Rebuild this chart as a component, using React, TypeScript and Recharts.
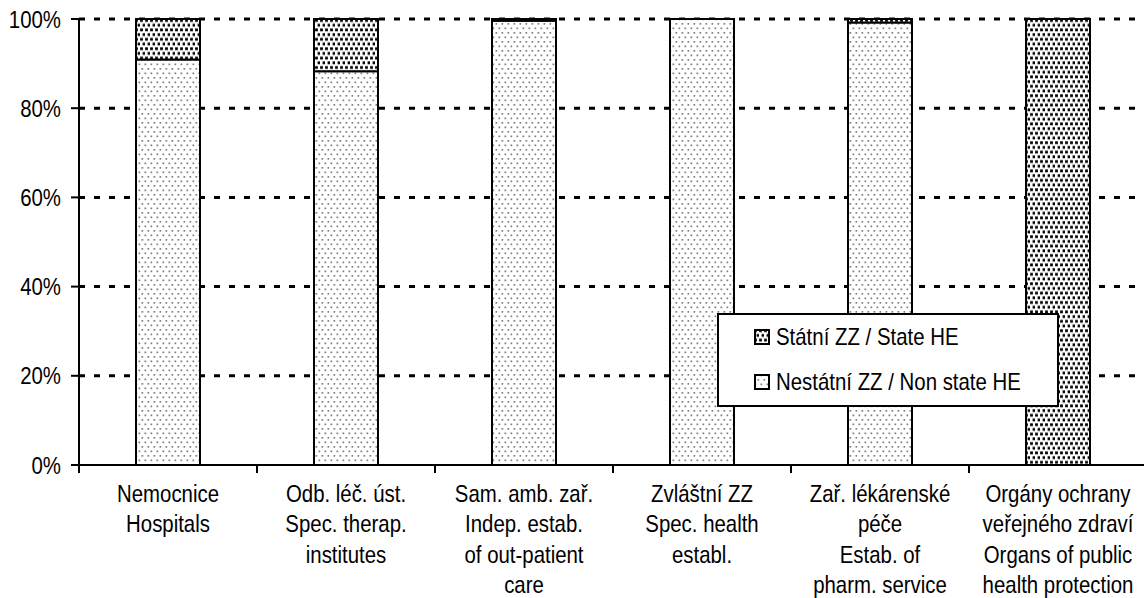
import React from 'react';
import { BarChart, Bar, XAxis, YAxis, CartesianGrid, Legend } from 'recharts';

const categories: string[][] = [
  ['Nemocnice', 'Hospitals'],
  ['Odb. léč. úst.', 'Spec. therap.', 'institutes'],
  ['Sam. amb. zař.', 'Indep. estab.', 'of out-patient', 'care'],
  ['Zvláštní ZZ', 'Spec. health', 'establ.'],
  ['Zař. lékárenské', 'péče', 'Estab. of', 'pharm. service'],
  ['Orgány ochrany', 'veřejného zdraví', 'Organs of public', 'health protection'],
];
const nonStateValues = [90.9, 88.3, 99.6, 100, 99.2, 0];
const stateValues = [9.1, 11.7, 0.4, 0, 0.8, 100];
const yTicks = [0, 20, 40, 60, 80, 100];
const gridValues = [20, 40, 60, 80, 100];
const stateName = 'Státní ZZ / State HE';
const nonStateName = 'Nestátní ZZ / Non state HE';

const data = categories.map((lines, i) => ({
  key: String(i),
  nonState: nonStateValues[i],
  state: stateValues[i],
}));

const FONT = '"Liberation Sans", Arial, sans-serif';
const SX = 0.85;

const CategoryTick = (props: any) => {
  const { x, y, payload, index, visibleTicksCount } = props;
  const idx = Number(payload?.value ?? index);
  const lines = categories[idx] || [];
  const half = payload?.offset ?? 0;
  return (
    <g>
      <line x1={x - half} x2={x - half} y1={y - 8} y2={y} stroke="#000" strokeWidth={2} />
      {index === visibleTicksCount - 1 && (
        <line x1={x + half} x2={x + half} y1={y - 8} y2={y} stroke="#000" strokeWidth={2} />
      )}
      <text
        transform={`translate(${x},${y + 29}) scale(${SX},1)`}
        x={0}
        y={0}
        textAnchor="middle"
        fontSize={24}
        fill="#000"
        fontFamily={FONT}
      >
        {lines.map((l, i) => (
          <tspan key={i} x={0} dy={i === 0 ? 0 : 30.5}>
            {l}
          </tspan>
        ))}
      </text>
    </g>
  );
};

const ValueTick = (props: any) => {
  const { x, y, payload } = props;
  return (
    <text
      transform={`translate(${x},${y}) scale(${SX},1)`}
      x={0}
      y={0}
      dy="0.355em"
      textAnchor="end"
      fontSize={24}
      fill="#000"
      fontFamily={FONT}
    >
      {`${payload.value}%`}
    </text>
  );
};

const LegendBox = (props: any) => {
  const items = [...(props.payload || [])].reverse();
  return (
    <div
      style={{
        width: 342,
        height: 94,
        boxSizing: 'border-box',
        border: '2px solid #000',
        background: '#fff',
        fontFamily: FONT,
        fontSize: 24,
        color: '#000',
        position: 'relative',
      }}
    >
      {items.map((it: any, i: number) => (
        <div
          key={i}
          style={{
            position: 'absolute',
            left: 35,
            top: 7 + i * 45,
            height: 30,
            display: 'flex',
            alignItems: 'center',
            whiteSpace: 'nowrap',
          }}
        >
          <svg width={16} height={16} style={{ marginRight: 6 }}>
            <rect x={1} y={1} width={14} height={14} fill={it.color} stroke="#000" strokeWidth={2} />
          </svg>
          <span style={{ display: 'inline-block', transform: `scaleX(${SX})`, transformOrigin: 'left center' }}>
            {it.value}
          </span>
        </div>
      ))}
    </div>
  );
};

export default function App() {
  return (
    <div style={{ width: 1144, height: 598, overflow: 'hidden' }}>
      <style>{'html,body{margin:0;overflow:hidden;background:#fff}'}</style>
      <BarChart
        width={1150}
        height={598}
        data={data}
        margin={{ top: 19, right: 3, bottom: 0, left: 0 }}
        barCategoryGap={0}
      >
        <defs>
          <pattern id="pNon" width={6} height={9} patternUnits="userSpaceOnUse">
            <rect width={6} height={9} fill="#fff" />
            <rect x={0.5} y={0.5} width={1.7} height={1.7} fill="#808080" />
            <rect x={3.5} y={5} width={1.7} height={1.7} fill="#808080" />
          </pattern>
          <pattern id="pState" width={5} height={9.4} patternUnits="userSpaceOnUse">
            <rect width={5} height={9.4} fill="#fff" />
            <rect x={0.1} y={0.3} width={2.8} height={2.8} fill="#000" />
            <rect x={2.6} y={5} width={2.8} height={2.8} fill="#000" />
          </pattern>
        </defs>
        <CartesianGrid
          vertical={false}
          horizontalValues={gridValues}
          stroke="#000"
          strokeWidth={3}
          strokeDasharray="6 9"
        />
        <XAxis
          dataKey="key"
          axisLine={{ stroke: '#000', strokeWidth: 2 }}
          tickLine={false}
          tickSize={8}
          tickMargin={0}
          interval={0}
          height={133}
          tick={<CategoryTick />}
        />
        <YAxis
          domain={[0, 100]}
          ticks={yTicks}
          axisLine={{ stroke: '#000', strokeWidth: 2 }}
          tickLine={{ stroke: '#000', strokeWidth: 2 }}
          tickSize={8}
          tickMargin={10}
          width={79}
          tick={<ValueTick />}
        />
        <Legend
          layout="horizontal"
          verticalAlign="middle"
          align="center"
          content={<LegendBox />}
          wrapperStyle={{ left: 717, top: 313, width: 342, height: 94 }}
        />
        <Bar
          dataKey="nonState"
          name={nonStateName}
          stackId="a"
          fill="url(#pNon)"
          stroke="#000"
          strokeWidth={2}
          barSize={64}
          isAnimationActive={false}
        />
        <Bar
          dataKey="state"
          name={stateName}
          stackId="a"
          fill="url(#pState)"
          stroke="#000"
          strokeWidth={2}
          barSize={64}
          isAnimationActive={false}
        />
      </BarChart>
    </div>
  );
}
